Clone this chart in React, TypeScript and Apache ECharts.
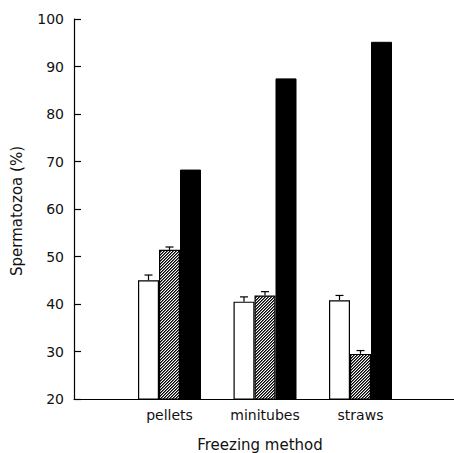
import React, { useEffect, useRef } from "react";
import * as echarts from "echarts";

const categories = ["pellets", "minitubes", "straws"];
const openValues = [45.0, 40.5, 40.8];
const openErrors = [1.1, 1.0, 1.0];
const hatchedValues = [51.4, 41.8, 29.5];
const hatchedErrors = [0.6, 0.8, 0.7];
const solidValues = [68.3, 87.5, 95.2];
const yTicks = [20, 30, 40, 50, 60, 70, 80, 90, 100];
const yTitle = "Spermatozoa (%)";
const xTitle = "Freezing method";

const FONT = "DejaVu Sans";
const BAR_W = 21;

function makeHatch(): HTMLCanvasElement {
  const n = 6;
  const c = document.createElement("canvas");
  c.width = n;
  c.height = n;
  const ctx = c.getContext("2d")!;
  const img = ctx.createImageData(n, n);
  for (let y = 0; y < n; y++) {
    for (let x = 0; x < n; x++) {
      const k = (x + y) % 3;
      const v = k === 0 ? 0 : k === 1 ? 100 : 255;
      const i = (y * n + x) * 4;
      img.data[i] = v;
      img.data[i + 1] = v;
      img.data[i + 2] = v;
      img.data[i + 3] = 255;
    }
  }
  ctx.putImageData(img, 0, 0);
  return c;
}

export default function App() {
  const ref = useRef<HTMLDivElement>(null);
  useEffect(() => {
    if (!ref.current) return;
    const chart = echarts.init(ref.current, null, { renderer: "svg" });
    const xData = ["", ...categories, ""];
    const pad = (arr: number[]) => [null, ...arr, null];

    const errSeries = (vals: number[], errs: number[], offset: number) => ({
      type: "custom",
      z: 5,
      data: categories.map((c, i) => [i + 1, vals[i], errs[i]]),
      renderItem: (params: any, api: any) => {
        const x = api.value(0);
        const v = api.value(1);
        const e = api.value(2);
        const base = api.coord([x, v]);
        const top = api.coord([x, v + e]);
        const cx = base[0] + offset;
        const style = { stroke: "#000", lineWidth: 1.2 };
        return {
          type: "group",
          children: [
            { type: "line", shape: { x1: cx, y1: base[1], x2: cx, y2: top[1] }, style },
            { type: "line", shape: { x1: cx - 4, y1: top[1], x2: cx + 4, y2: top[1] }, style },
          ],
        };
      },
    });

    chart.setOption({
      animation: false,
      backgroundColor: "#ffffff",
      grid: { left: 74, right: -2, top: 19, bottom: 54, outerBoundsMode: "none", containLabel: false },
      xAxis: {
        type: "category",
        data: xData,
        boundaryGap: false,
        axisLine: { show: true, lineStyle: { color: "#000", width: 1.2 } },
        axisTick: { show: false },
        axisLabel: { color: "#111", fontFamily: FONT, fontSize: 14, margin: 9, interval: 0 },
        splitLine: { show: false },
      },
      yAxis: {
        type: "value",
        min: 20,
        max: 100,
        interval: 10,
        axisLine: { show: true, lineStyle: { color: "#000", width: 1.2 } },
        axisTick: { show: true, inside: true, length: 7, lineStyle: { color: "#000", width: 1.2 } },
        axisLabel: {
          color: "#111",
          fontFamily: FONT,
          fontSize: 14,
          margin: 10,
          customValues: yTicks,
        },
        splitLine: { show: false },
      },
      graphic: [
        {
          type: "text",
          x: 260,
          y: 445,
          style: {
            text: xTitle,
            fill: "#111",
            font: `15px "${FONT}"`,
            align: "center",
            verticalAlign: "middle",
          },
        },
        {
          type: "text",
          x: 17,
          y: 211,
          rotation: Math.PI / 2,
          style: {
            text: yTitle,
            fill: "#111",
            font: `15px "${FONT}"`,
            align: "center",
            verticalAlign: "middle",
          },
        },
      ],
      series: [
        {
          type: "bar",
          data: pad(openValues),
          barWidth: BAR_W,
          barGap: "0%",
          itemStyle: { color: "#ffffff", borderColor: "#000", borderWidth: 1.2 },
        },
        {
          type: "bar",
          data: pad(hatchedValues),
          barWidth: BAR_W,
          barGap: "0%",
          itemStyle: {
            color: { image: makeHatch(), repeat: "repeat" },
            borderColor: "#000",
            borderWidth: 1.2,
          },
        },
        {
          type: "bar",
          data: pad(solidValues),
          barWidth: BAR_W,
          barGap: "0%",
          itemStyle: { color: "#000", borderColor: "#000", borderWidth: 1 },
        },
        errSeries(openValues, openErrors, -BAR_W),
        errSeries(hatchedValues, hatchedErrors, 0),
      ],
    });
    return () => chart.dispose();
  }, []);
  return (
    <div
      ref={ref}
      style={{ position: "absolute", left: 0, top: 0, width: 454, height: 453 }}
    />
  );
}
